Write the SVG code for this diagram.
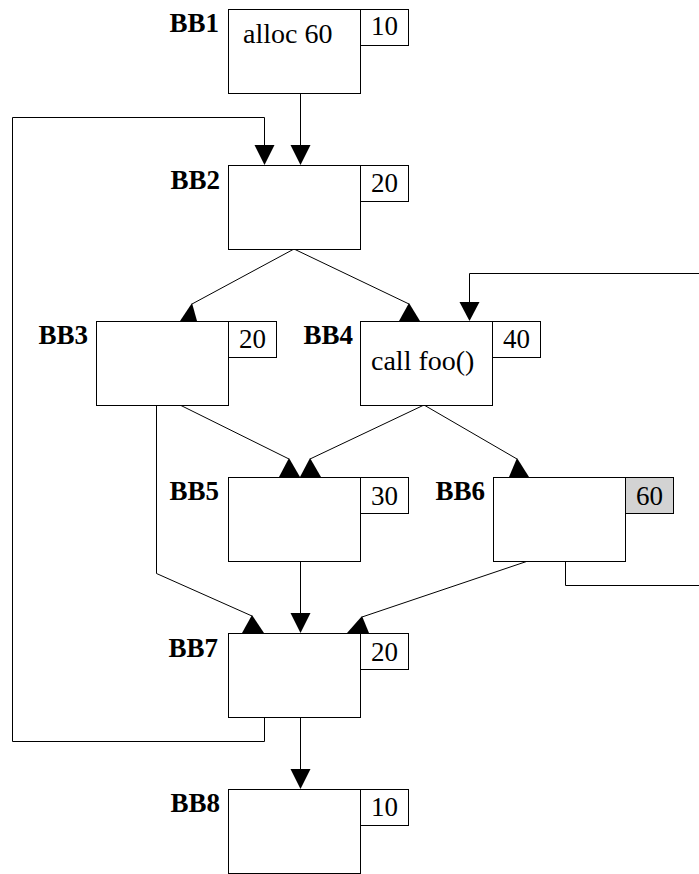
<svg xmlns="http://www.w3.org/2000/svg" width="699" height="874" viewBox="0 0 699 874">
<style>
.box{fill:#fff;stroke:#000;stroke-width:1}
.cnt{fill:#fff;stroke:#000;stroke-width:1}
.hot{fill:#d3d3d3;stroke:#000;stroke-width:1}
.lbl{font-family:"Liberation Serif",serif;font-weight:bold;font-size:27px;text-anchor:end;fill:#000}
.num{font-family:"Liberation Serif",serif;font-size:27px;text-anchor:middle;fill:#000}
.txt{font-family:"Liberation Serif",serif;font-size:28px;fill:#000}
.ln{fill:none;stroke:#000;stroke-width:1}
.ah{fill:#000;stroke:none}
</style>
<rect width="699" height="874" fill="#fff"/>
<g id="connectors">
<path class="ln" d="M300.5,93 V146"/>
<polygon class="ah" points="290.5,145 310.5,145 300.5,165"/>
<path class="ln" d="M264.5,717 V741.5 H12.5 V117.5 H264.5 V146"/>
<polygon class="ah" points="254.5,145 274.5,145 264.5,165"/>
<path class="ln" d="M294,249 L192,304"/>
<polygon class="ah" points="180,321 197,321 192,303"/>
<path class="ln" d="M294,249 L409,304"/>
<polygon class="ah" points="399,321 420,321 409,303"/>
<path class="ln" d="M565.5,561 V585.5 H705 V273.5 H469.5 V302"/>
<polygon class="ah" points="459.5,302 479.5,302 469.5,321"/>
<path class="ln" d="M180,405 L289,459"/>
<polygon class="ah" points="279,477 300,477 289,458"/>
<path class="ln" d="M424,405 L310,459"/>
<polygon class="ah" points="300,477 321,477 310,458"/>
<path class="ln" d="M424,405 L517,459"/>
<polygon class="ah" points="509,477 529,477 517,458"/>
<path class="ln" d="M156.5,405 V573.5 L252,616"/>
<polygon class="ah" points="242,633 264,633 252,615"/>
<path class="ln" d="M300.5,561 V614"/>
<polygon class="ah" points="290.5,613 310.5,613 300.5,633"/>
<path class="ln" d="M528,561 L362,617"/>
<polygon class="ah" points="347,633 369,633 362,616"/>
<path class="ln" d="M300.5,717 V770"/>
<polygon class="ah" points="290.5,769 310.5,769 300.5,789"/>
</g>
<g id="BB1">
<rect class="box" x="228.5" y="9.5" width="132" height="84"/>
<rect class="cnt" x="360.5" y="9.5" width="48" height="36"/>
<text class="lbl" x="219" y="32">BB1</text>
<text class="num" x="384.5" y="35">10</text>
<text class="txt" x="243" y="43">alloc 60</text>
</g>
<g id="BB2">
<rect class="box" x="228.5" y="165.5" width="132" height="84"/>
<rect class="cnt" x="360.5" y="165.5" width="48" height="36"/>
<text class="lbl" x="220" y="189">BB2</text>
<text class="num" x="384.5" y="192">20</text>
</g>
<g id="BB3">
<rect class="box" x="96.5" y="321.5" width="132" height="84"/>
<rect class="cnt" x="228.5" y="321.5" width="48" height="36"/>
<text class="lbl" x="88" y="344">BB3</text>
<text class="num" x="252.5" y="348">20</text>
</g>
<g id="BB4">
<rect class="box" x="360.5" y="321.5" width="132" height="84"/>
<rect class="cnt" x="492.5" y="321.5" width="48" height="36"/>
<text class="lbl" x="353" y="344">BB4</text>
<text class="num" x="516.5" y="348">40</text>
<text class="txt" x="371" y="370">call foo()</text>
</g>
<g id="BB5">
<rect class="box" x="228.5" y="477.5" width="132" height="84"/>
<rect class="cnt" x="360.5" y="477.5" width="48" height="36"/>
<text class="lbl" x="219" y="500">BB5</text>
<text class="num" x="384.5" y="505">30</text>
</g>
<g id="BB6">
<rect class="box" x="493.5" y="477.5" width="132" height="84"/>
<rect class="hot" x="625.5" y="477.5" width="48" height="36"/>
<text class="lbl" x="485" y="500">BB6</text>
<text class="num" x="649.5" y="505">60</text>
</g>
<g id="BB7">
<rect class="box" x="228.5" y="633.5" width="132" height="84"/>
<rect class="cnt" x="360.5" y="633.5" width="48" height="36"/>
<text class="lbl" x="218" y="657">BB7</text>
<text class="num" x="384.5" y="661">20</text>
</g>
<g id="BB8">
<rect class="box" x="228.5" y="789.5" width="132" height="84"/>
<rect class="cnt" x="360.5" y="789.5" width="48" height="36"/>
<text class="lbl" x="220" y="812">BB8</text>
<text class="num" x="384.5" y="816">10</text>
</g>
</svg>
